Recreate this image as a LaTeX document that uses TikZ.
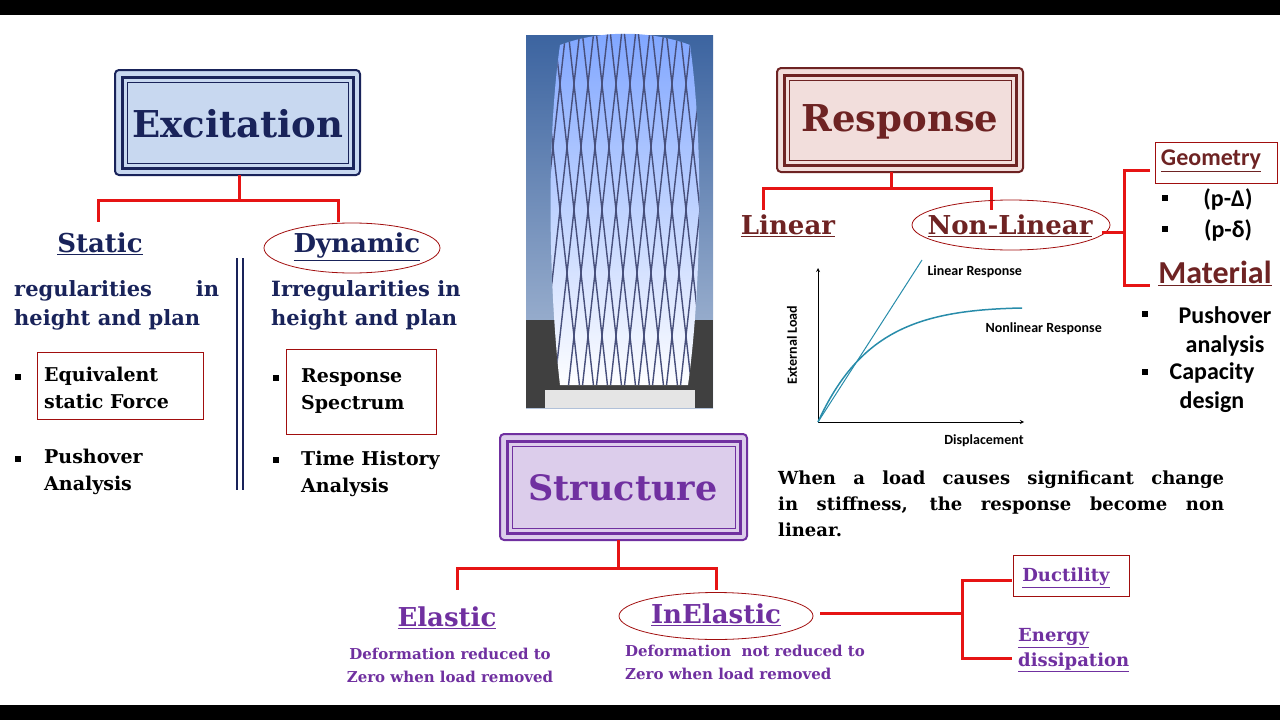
\documentclass[tikz,border=0pt]{standalone}
\usepackage{fontspec}
\setmainfont{DejaVu Serif}
\newfontfamily\carl{Carlito}
\usetikzlibrary{shapes.geometric}
\definecolor{navy}{RGB}{25,35,90}
\definecolor{lblue}{RGB}{200,216,240}
\definecolor{maroon}{RGB}{110,35,35}
\definecolor{pinkf}{RGB}{242,222,220}
\definecolor{purp}{RGB}{112,48,160}
\definecolor{lpurp}{RGB}{220,205,235}
\definecolor{rd}{RGB}{230,20,20}
\definecolor{teal}{RGB}{40,140,170}
\definecolor{sky}{RGB}{60,100,160}
\tikzset{
 tree/.style={rd,line width=3pt},
 hd/.style={font=\bfseries\fontsize{26}{28}\selectfont,inner sep=0},
 bod/.style={font=\bfseries\fontsize{21}{29}\selectfont,inner sep=0,anchor=west},
 itm/.style={font=\bfseries\fontsize{19}{27}\selectfont,inner sep=0,anchor=west},
 rbox/.style={draw=rd!70!black,line width=0.8pt},
 oval/.style={draw=rd!70!black,line width=0.8pt,ellipse},
 cal/.style={font=\carl\bfseries\fontsize{24}{29}\selectfont,inner sep=0},
 gl/.style={font=\carl\bfseries\fontsize{14}{16}\selectfont},
}
\begin{document}
\begin{tikzpicture}[x=1pt,y=-1pt]
\useasboundingbox (0,0) rectangle (1280,720);
\fill[black] (0,0) rectangle (1280,15);
\fill[black] (0,705) rectangle (1280,720);
% ===== Excitation
\draw[navy,line width=2pt,fill=lblue,rounded corners=4pt] (115,70) rectangle (360,175);
\draw[navy,line width=3pt] (122,77) rectangle (353,168);
\draw[navy,line width=1pt] (127,82) rectangle (348,163);
\node[font=\bfseries\fontsize{37}{40}\selectfont,navy] (exc) at (238,124) {Excitation};
\coordinate (e0) at (239,175);
\draw[tree] (e0) -- (239,200) -- (98,200) -- (98,222);
\draw[tree] (239,200) -- (338,200) -- (338,222);
\node[hd,navy] (stat) at (100,244) {\underline{Static}};
\node[hd,navy] (dyn) at (357,247) {\underline{Dynamic}};
\node[oval,minimum width=176,minimum height=50] (dynov) at (352,248) {};
\node[bod,navy,text width=205,align=justify] (reg) at (14,305) {regularities\hfill in\\height and plan};
\node[bod,navy] (irr) at (271,305) {\begin{tabular}{@{}l@{}}Irregularities in\\height and plan\end{tabular}};
\draw[navy,line width=1.5pt] (237,258) -- (237,490) (243,258) -- (243,490);
\node[rbox,minimum width=166,minimum height=67] (eqb) at (120,386) {};
\node[itm] (eq) at (44,390) {\begin{tabular}{@{}l@{}}Equivalent\\static Force\end{tabular}};
\node[itm] (push) at (44,472) {\begin{tabular}{@{}l@{}}Pushover\\Analysis\end{tabular}};
\node[rbox,minimum width=150,minimum height=85] (rsb) at (361,392) {};
\node[itm] (rs) at (301,391) {\begin{tabular}{@{}l@{}}Response\\Spectrum\end{tabular}};
\node[itm] (th) at (301,474) {\begin{tabular}{@{}l@{}}Time History\\Analysis\end{tabular}};
\foreach \p in {(18,377),(18,459),(276,378),(276,460)} \fill \p ++(-3,-3) rectangle ++(6,6);
% ===== Building
\shade[top color=sky,bottom color=sky!40!white] (526,35) rectangle (713,408);
\fill[gray!50!black] (526,320) rectangle (713,408);
\fill[gray!20] (545,390) rectangle (695,408);
\begin{scope}
\clip (560,45) .. controls (600,30) and (650,30) .. (690,45) .. controls (705,150) and (700,300) .. (688,385) -- (560,385) .. controls (550,300) and (545,150) .. (560,45) -- cycle;
\shade[top color=cyan!30!blue!50,middle color=cyan!20!white,bottom color=white] (540,30) rectangle (710,390);
\foreach \i in {0,...,13} {
  \draw[navy!80,line width=1.4pt] (540+\i*14,30) -- ++(40,360);
  \draw[navy!80,line width=1.4pt] (720-\i*14,30) -- ++(-40,360);
}
\end{scope}
% ===== Response
\draw[maroon,line width=2pt,fill=pinkf,rounded corners=4pt] (777,68) rectangle (1023,172);
\draw[maroon,line width=3pt] (784,75) rectangle (1016,165);
\draw[maroon,line width=1pt] (789,80) rectangle (1011,160);
\node[font=\bfseries\fontsize{37}{40}\selectfont,maroon] (resp) at (900,122) {Response};
\coordinate (r0) at (891,172);
\draw[tree] (r0) -- (891,188) -- (763,188) -- (763,210);
\draw[tree] (891,188) -- (991,188) -- (991,210);
\node[hd,maroon] (lin) at (788,226) {\underline{Linear}};
\node[hd,maroon] (nl) at (1010,226) {\underline{Non-Linear}};
\node[oval,minimum width=198,minimum height=50] (nlov) at (1011,225) {};
\coordinate (b0) at (1102,232);
\draw[tree] (b0) -- (1124,232);
\draw[tree] (1150,170) -- (1124,170) -- (1124,285) -- (1150,285);
\node[rbox,minimum width=122,minimum height=41] (geob) at (1216,163) {};
\node[cal,maroon] (geo) at (1211,161) {\underline{Geometry}};
\node[cal] (pd1) at (1228,199) {(p-Δ)};
\node[cal] (pd2) at (1228,230) {(p-δ)};
\node[cal,maroon,font=\carl\bfseries\fontsize{32}{34}\selectfont] (mat) at (1215,273) {\underline{Material}};
\node[cal,align=center] (po) at (1225,331) {Pushover\\analysis};
\node[cal,align=center] (cd) at (1212,388) {Capacity\\design};
\foreach \p in {(1165,198),(1165,229),(1145,314),(1145,372)} \fill \p ++(-3,-3) rectangle ++(6,6);
% graph
\coordinate (O) at (818,422);
\draw[line width=0.8pt,-stealth] (O) -- (818,268);
\draw[line width=0.8pt,-stealth] (O) -- (1024,422);
\draw[teal,line width=1pt] (O) -- (922,260);
\draw[teal,line width=1.5pt] (O) .. controls (860,330) and (920,310) .. (1022,308);
\node[gl,anchor=west] (lr) at (924,272) {Linear Response};
\node[gl,anchor=west] (nr) at (982,329) {Nonlinear Response};
\node[gl,rotate=90] (el) at (792,345) {External Load};
\node[gl] (dp) at (984,441) {Displacement};
\node[font=\bfseries\fontsize{18}{26}\selectfont,text width=446,align=justify,anchor=north west,inner sep=0] (para) at (778,471) {When a load causes significant change\linebreak in stiffness, the response become non\linebreak linear.};
% ===== Structure
\draw[purp,line width=2pt,fill=lpurp,rounded corners=4pt] (500,434) rectangle (747,540);
\draw[purp,line width=3pt] (507,441) rectangle (740,533);
\draw[purp,line width=1pt] (512,446) rectangle (735,528);
\node[font=\bfseries\fontsize{35}{38}\selectfont,purp] (str) at (623,488) {Structure};
\coordinate (s0) at (618,540);
\draw[tree] (s0) -- (618,568) -- (457,568) -- (457,590);
\draw[tree] (618,568) -- (716,568) -- (716,590);
\node[hd,purp] (ela) at (447,618) {\underline{Elastic}};
\node[hd,purp] (inel) at (716,615) {\underline{InElastic}};
\node[oval,minimum width=194,minimum height=47] (inov) at (716,616) {};
\node[font=\bfseries\fontsize{15}{23}\selectfont,purp,align=center] (d1) at (450,665) {Deformation reduced to\\Zero when load removed};
\node[font=\bfseries\fontsize{15}{23}\selectfont,purp,align=left] (d2) at (745,662) {Deformation\ \ not reduced to\\Zero when load removed};
\coordinate (i0) at (820,613);
\draw[tree] (i0) -- (962,613);
\draw[tree] (1012,580) -- (962,580) -- (962,658) -- (1012,658);
\node[rbox,minimum width=116,minimum height=41] (dub) at (1071,576) {};
\node[font=\bfseries\fontsize{18}{20}\selectfont,purp] (du) at (1066,578) {\underline{Ductility}};
\node[font=\bfseries\fontsize{18}{25}\selectfont,purp,anchor=north west,inner sep=0,align=left] (en) at (1018,628) {\underline{Energy}\\\underline{dissipation}};
\end{tikzpicture}
\end{document}
